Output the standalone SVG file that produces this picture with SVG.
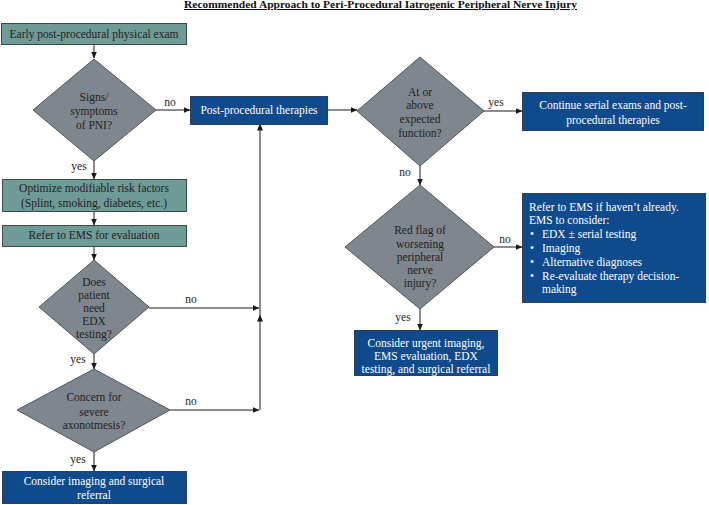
<svg xmlns="http://www.w3.org/2000/svg" width="709" height="505" viewBox="0 0 709 505">
<defs>
<marker id="ah" markerWidth="7" markerHeight="6" refX="6.5" refY="3" orient="auto" markerUnits="userSpaceOnUse">
<path d="M0,0 L7,3 L0,6 Z" fill="#1a1a1a"/>
</marker>
<style>
text{font-family:"Liberation Serif","Times New Roman",serif;font-size:11.5px}
.teal{fill:#6f9b96;stroke:#3c4a48;stroke-width:1}
.navy{fill:#0e4a8c;stroke:#2d3e55;stroke-width:1}
.dia{fill:#80868e;stroke:#50555c;stroke-width:1}
.dk{fill:#1e1e1e;text-anchor:middle}
.wt{fill:#ffffff;text-anchor:middle}
.wl{fill:#ffffff}
.lbl{fill:#1e1e1e;text-anchor:middle}
.ln{fill:none;stroke:#1a1a1a;stroke-width:1}
.title{font-weight:bold;font-size:10.5px;text-decoration:underline;fill:#111}
</style>
</defs>
<rect width="709" height="505" fill="#ffffff"/>
<text class="title" x="184" y="8" textLength="393" lengthAdjust="spacingAndGlyphs">Recommended Approach to Peri-Procedural Iatrogenic Peripheral Nerve Injury</text>

<g id="connectors">
<path class="ln" d="M94,44 V58" marker-end="url(#ah)"/>
<path class="ln" d="M156,110 H190" marker-end="url(#ah)"/>
<path class="ln" d="M328,110 H357" marker-end="url(#ah)"/>
<path class="ln" d="M94,161 V179" marker-end="url(#ah)"/>
<path class="ln" d="M94,211 V225" marker-end="url(#ah)"/>
<path class="ln" d="M94,246 V260" marker-end="url(#ah)"/>
<path class="ln" d="M149,308 H259" marker-end="url(#ah)"/>
<path class="ln" d="M94,354 V369" marker-end="url(#ah)"/>
<path class="ln" d="M170,410 H259" marker-end="url(#ah)"/>
<path class="ln" d="M260,410 V315" marker-end="url(#ah)"/>
<path class="ln" d="M260,315 V124" marker-end="url(#ah)"/>
<path class="ln" d="M94,452 V471" marker-end="url(#ah)"/>
<path class="ln" d="M484,111 H522" marker-end="url(#ah)"/>
<path class="ln" d="M420,166 V185" marker-end="url(#ah)"/>
<path class="ln" d="M494,247 H522" marker-end="url(#ah)"/>
<path class="ln" d="M420,309 V330" marker-end="url(#ah)"/>
<text class="lbl" x="170" y="106">no</text>
<text class="lbl" x="79" y="170">yes</text>
<text class="lbl" x="191" y="303">no</text>
<text class="lbl" x="78" y="363">yes</text>
<text class="lbl" x="191" y="405">no</text>
<text class="lbl" x="78" y="463">yes</text>
<text class="lbl" x="496" y="106">yes</text>
<text class="lbl" x="405" y="176">no</text>
<text class="lbl" x="505" y="243">no</text>
<text class="lbl" x="403" y="321">yes</text>
</g>

<g id="n_exam">
<rect class="teal" x="1.5" y="23.5" width="185" height="21"/>
<text class="dk" x="94" y="38">Early post-procedural physical exam</text>
</g>
<g id="n_signs">
<polygon class="dia" points="94,59 156,110 94,161 33,110"/>
<text class="dk" x="94" y="101">Signs/</text>
<text class="dk" x="94" y="115">symptoms</text>
<text class="dk" x="94" y="129">of PNI?</text>
</g>
<g id="n_therapies">
<rect class="navy" x="190.5" y="96.5" width="137" height="28"/>
<text class="wt" x="259" y="114">Post-procedural therapies</text>
</g>
<g id="n_optimize">
<rect class="teal" x="2.5" y="179.5" width="184" height="32"/>
<text class="dk" x="94" y="192">Optimize modifiable risk factors</text>
<text class="dk" x="94" y="207">(Splint, smoking, diabetes, etc.)</text>
</g>
<g id="n_refer">
<rect class="teal" x="2.5" y="225.5" width="184" height="21"/>
<text class="dk" x="94" y="239">Refer to EMS for evaluation</text>
</g>
<g id="n_edx">
<polygon class="dia" points="94,260 149,307 94,354 39,307"/>
<text class="dk" x="94" y="286">Does</text>
<text class="dk" x="94" y="299">patient</text>
<text class="dk" x="94" y="312">need</text>
<text class="dk" x="94" y="325">EDX</text>
<text class="dk" x="94" y="338">testing?</text>
</g>
<g id="n_axono">
<polygon class="dia" points="94,369 170,410 94,452 17,410"/>
<text class="dk" x="94" y="401">Concern for</text>
<text class="dk" x="94" y="416">severe</text>
<text class="dk" x="94" y="429">axonotmesis?</text>
</g>
<g id="n_imaging">
<rect class="navy" x="2.5" y="471.5" width="184" height="32"/>
<text class="wt" x="94" y="485">Consider imaging and surgical</text>
<text class="wt" x="94" y="499">referral</text>
</g>
<g id="n_function">
<polygon class="dia" points="420,57 484,111 420,166 357,111"/>
<text class="dk" x="420" y="96">At or</text>
<text class="dk" x="420" y="109">above</text>
<text class="dk" x="420" y="123">expected</text>
<text class="dk" x="420" y="137">function?</text>
</g>
<g id="n_continue">
<rect class="navy" x="522.5" y="92.5" width="181" height="38"/>
<text class="wt" x="613" y="109">Continue serial exams and post-</text>
<text class="wt" x="613" y="124">procedural therapies</text>
</g>
<g id="n_redflag">
<polygon class="dia" points="420,185 494,247 420,309 345,247"/>
<text class="dk" x="420" y="234">Red flag of</text>
<text class="dk" x="420" y="248">worsening</text>
<text class="dk" x="420" y="261">peripheral</text>
<text class="dk" x="420" y="274">nerve</text>
<text class="dk" x="420" y="287">injury?</text>
</g>
<g id="n_ems">
<rect class="navy" x="522.5" y="193.5" width="183" height="109"/>
<text class="wl" x="529" y="211">Refer to EMS if haven’t already.</text>
<text class="wl" x="529" y="224">EMS to consider:</text>
<text class="wl" x="530" y="238">•</text>
<text class="wl" x="542" y="238">EDX ± serial testing</text>
<text class="wl" x="530" y="252">•</text>
<text class="wl" x="542" y="252">Imaging</text>
<text class="wl" x="530" y="266">•</text>
<text class="wl" x="542" y="266">Alternative diagnoses</text>
<text class="wl" x="530" y="280">•</text>
<text class="wl" x="542" y="280">Re-evaluate therapy decision-</text>
<text class="wl" x="542" y="293">making</text>
</g>
<g id="n_urgent">
<rect class="navy" x="354.5" y="330.5" width="143" height="45"/>
<text class="wt" x="426" y="347">Consider urgent imaging,</text>
<text class="wt" x="426" y="360">EMS evaluation, EDX</text>
<text class="wt" x="426" y="373">testing, and surgical referral</text>
</g>
</svg>
